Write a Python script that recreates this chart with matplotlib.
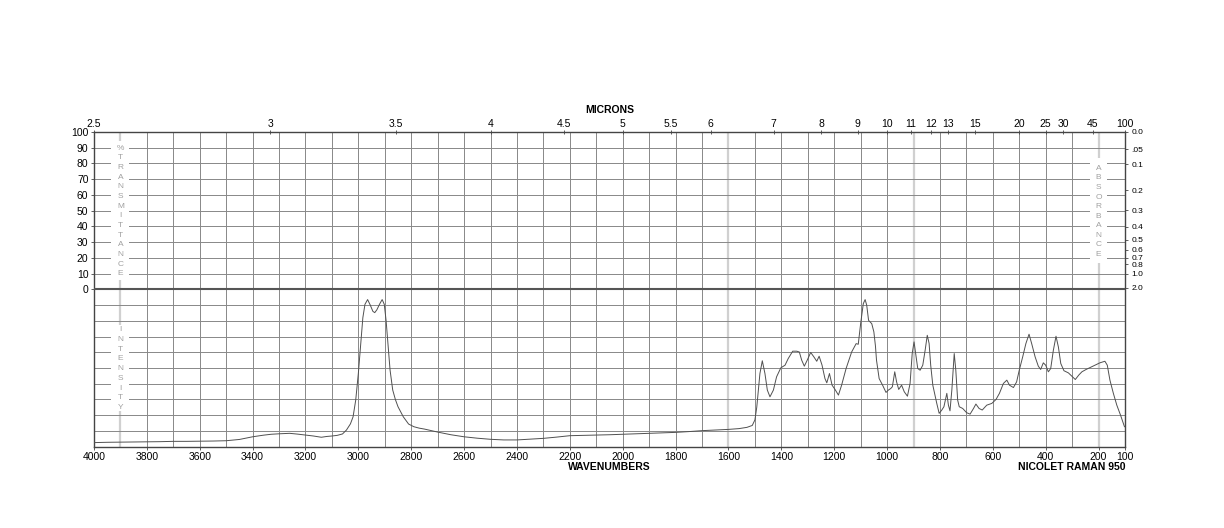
import matplotlib
matplotlib.use('Agg')
import matplotlib.pyplot as plt
import numpy as np

plt.rcParams['font.family'] = ['Liberation Sans', 'DejaVu Sans']

# raman spectrum (wavenumber, intensity %)
wavenumbers = [4000, 3950, 3900, 3850, 3800, 3750, 3700, 3650, 3600, 3550, 3500, 3450,
               3400, 3360, 3330, 3300, 3260, 3230, 3200, 3170, 3140, 3120, 3100, 3080,
               3060, 3045, 3030, 3020, 3010, 3000, 2990, 2983, 2975, 2965, 2955, 2945,
               2938, 2930, 2920, 2910, 2902, 2895, 2888, 2880, 2870, 2860, 2850, 2830,
               2810, 2790, 2770, 2750, 2700, 2650, 2600, 2550, 2500, 2450, 2400, 2350,
               2300, 2250, 2200, 2150, 2100, 2050, 2000, 1950, 1900, 1850, 1800, 1750,
               1700, 1650, 1600, 1560, 1530, 1510, 1500, 1493, 1487, 1481, 1472, 1462,
               1453, 1443, 1430, 1418, 1402, 1386, 1374, 1357, 1342, 1332, 1323, 1313,
               1302, 1289, 1277, 1266, 1257, 1246, 1235, 1228, 1218, 1208, 1197, 1184,
               1172, 1155, 1134, 1117, 1109, 1100, 1090, 1083, 1077, 1070, 1058, 1050,
               1044, 1040, 1030, 1017, 1004, 995, 986, 980, 971, 964, 956, 945, 935,
               923, 913, 905, 898, 892, 884, 875, 865, 856, 848, 841, 835, 827, 819,
               812, 803, 793, 785, 774, 768, 762, 755, 746, 740, 733, 727, 714, 699,
               686, 673, 664, 652, 640, 623, 604, 588, 575, 560, 547, 537, 522, 510,
               500, 487, 475, 463, 453, 440, 428, 419, 409, 400, 390, 381, 371, 361,
               352, 343, 331, 314, 301, 288, 275, 263, 247, 232, 213, 195, 176, 167,
               157, 144, 131, 117, 102]
intensity = [2.6, 2.8, 2.9, 3.0, 3.1, 3.2, 3.4, 3.4, 3.5, 3.6, 3.8, 4.6,
             6.3, 7.3, 7.9, 8.2, 8.5, 8.0, 7.4, 6.8, 6.0, 6.5, 6.8, 7.2,
             8.1, 10.6, 14.5, 19.0, 29.6, 46.7, 67.0, 82.0, 90.5, 93.5, 90.0, 86.0,
             85.2, 87.0, 90.5, 93.5, 90.5, 80.0, 65.0, 48.6, 36.0, 30.0, 25.4, 19.0,
             14.4, 12.7, 11.8, 11.2, 9.3, 7.6, 6.3, 5.4, 4.7, 4.3, 4.3, 4.8,
             5.3, 6.1, 7.0, 7.2, 7.4, 7.6, 7.9, 8.2, 8.5, 8.8, 9.1, 9.6,
             10.2, 10.6, 11.0, 11.5, 12.3, 13.5, 17.0, 25.0, 36.0, 46.5, 54.6, 46.5,
             36.0, 31.7, 36.0, 44.4, 50.1, 51.8, 56.0, 60.7, 60.7, 60.2, 55.0, 51.2,
             55.0, 59.9, 57.1, 54.3, 57.5, 51.8, 43.3, 40.6, 46.5, 39.1, 36.4, 32.8,
             39.1, 49.7, 60.2, 65.5, 65.1, 78.2, 90.9, 93.5, 89.9, 80.3, 78.2, 73.0,
             64.0, 55.0, 43.3, 39.1, 34.5, 36.0, 37.0, 38.1, 47.6, 41.2, 36.4, 39.1, 34.9,
             32.1, 40.2, 59.2, 66.6, 59.2, 49.7, 48.6, 51.8, 61.3, 70.8, 65.6, 51.8, 39.1, 32.8,
             27.5, 21.2, 23.3, 25.4, 33.9, 26.4, 22.8, 36.0, 59.2, 48.6, 29.6, 25.4, 24.3, 21.6,
             20.7, 24.3, 27.1, 24.3, 23.3, 26.4, 27.5, 30.0, 33.9, 40.2, 42.3, 39.1, 37.6, 41.2,
             48.6, 57.1, 65.5, 71.5, 65.5, 57.1, 51.2, 49.1, 53.3, 51.8, 47.6, 49.7, 61.3, 70.2,
             63.4, 52.9, 48.3, 46.9, 44.8, 42.7, 45.5, 47.6, 49.1, 50.3, 51.8, 53.3, 54.3, 51.8,
             42.3, 33.9, 26.4, 20.1, 12.7]

micron_ticks = [2.5, 3, 3.5, 4, 4.5, 5, 5.5, 6, 7, 8, 9, 10, 11, 12, 13, 15, 20, 25, 30, 45, 100]
micron_labels = ['2.5', '3', '3.5', '4', '4.5', '5', '5.5', '6', '7', '8', '9', '10', '11',
                 '12', '13', '15', '20', '25', '30', '45', '100']
absorb_ticks = [0.0, 0.05, 0.1, 0.2, 0.3, 0.4, 0.5, 0.6, 0.7, 0.8, 1.0, 2.0]
absorb_labels = ['0.0', '.05', '0.1', '0.2', '0.3', '0.4', '0.5', '0.6', '0.7', '0.8', '1.0', '2.0']
wn_ticks = [4000, 3800, 3600, 3400, 3200, 3000, 2800, 2600, 2400, 2200, 2000, 1800,
            1600, 1400, 1200, 1000, 800, 600, 400, 200, 100]
trans_ticks = [100, 90, 80, 70, 60, 50, 40, 30, 20, 10, 0]

W, H = 1224, 528
fig = plt.figure(figsize=(W/100, H/100), dpi=100)
x0, x1, ytop, ybot = 94, 1125, 132, 446.7
ax = fig.add_axes([x0/W, 1-ybot/H, (x1-x0)/W, (ybot-ytop)/H])
ax.set_xlim(4000, 100)
ax.set_ylim(-100, 100)

gridc = '#888888'
for w in range(3900, 100, -100):
    if w in (3900, 1600, 900, 200):
        ax.axvline(w, color='#d0d0d0', lw=1.6, zorder=1)
    else:
        ax.axvline(w, color=gridc, lw=0.7, zorder=1)
for yy in range(-90, 100, 10):
    if yy != 0:
        ax.axhline(yy, color=gridc, lw=0.7, zorder=1)
ax.axhline(0, color='#555555', lw=1.5, zorder=3)

# white patches behind the stacked axis words
ax.fill_between([3935, 3868], 6, 94, color='white', zorder=2, lw=0)
ax.fill_between([3935, 3868], -77.5, -22.5, color='white', zorder=2, lw=0)
ax.fill_between([232, 168], 16.5, 83.5, color='white', zorder=2, lw=0)

def stacked(word, xw, ystart, step):
    for i, ch in enumerate(word):
        ax.text(xw, ystart - i*step, ch, ha='center', va='center', fontsize=6,
                color='#a0a0a0', zorder=4)

stacked('%TRANSMITTANCE', 3900, 89.8, 6.15)
stacked('INTENSITY', 3900, -25.8, 6.15)
stacked('ABSORBANCE', 200, 76.9, 6.07)

ax.plot(wavenumbers, np.array(intensity) - 100, color='#505050', lw=0.7, zorder=5)

for s in ax.spines.values():
    s.set_color('#444444')
    s.set_linewidth(1.0)

ax.set_xticks(wn_ticks)
ax.set_xticklabels([str(t) for t in wn_ticks])
ax.set_yticks(trans_ticks)
ax.set_yticklabels([str(t) for t in trans_ticks])
ax.tick_params(axis='x', length=2, width=0.6, pad=2, labelsize=7.5, color='#444444')
ax.tick_params(axis='y', length=2, width=0.6, pad=2, labelsize=7.5, color='#444444')

top = ax.twiny()
top.set_xlim(4000, 100)
top.set_xticks([10000.0/m for m in micron_ticks])
top.set_xticklabels(micron_labels)
top.tick_params(axis='x', length=2.5, width=0.6, pad=1, labelsize=7.5, direction='inout',
                color='#444444')
for s in top.spines.values():
    s.set_visible(False)

right = ax.twinx()
right.set_ylim(-100, 100)
right.set_yticks([100*10**(-a) for a in absorb_ticks])
right.set_yticklabels(absorb_labels)
right.tick_params(axis='y', length=2.5, width=0.6, pad=2, labelsize=6, color='#444444')
for s in right.spines.values():
    s.set_visible(False)

fig.text((x0+x1)/2/W, 1-110/H, 'MICRONS', ha='center', va='center', fontsize=7.5,
         fontweight='bold')
fig.text((x0+x1)/2/W, 1-467/H, 'WAVENUMBERS', ha='center', va='center', fontsize=7.5,
         fontweight='bold')
fig.text(x1/W, 1-467/H, 'NICOLET RAMAN 950', ha='right', va='center', fontsize=7.5,
         fontweight='bold')

fig.savefig('out.png', dpi=100)
